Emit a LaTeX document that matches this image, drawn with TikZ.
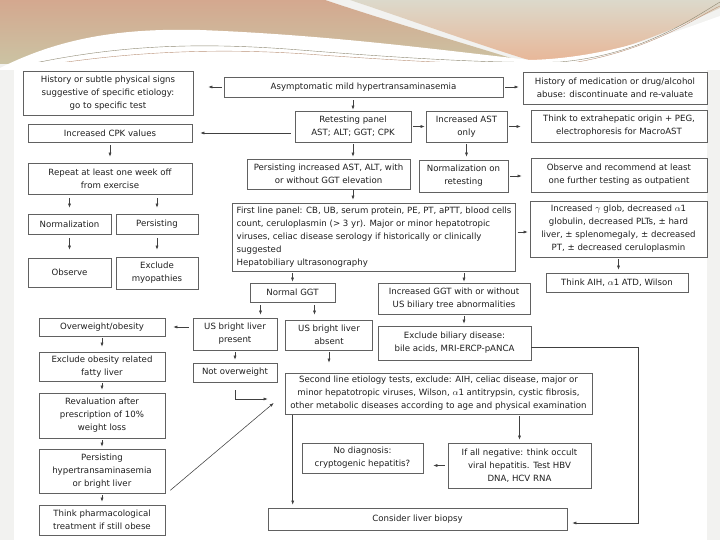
\documentclass[tikz,border=0pt]{standalone}
\usepackage{fontspec}
\setmainfont{DejaVu Sans}
\usetikzlibrary{arrows.meta, calc}
\definecolor{bgGray}{HTML}{F2F2F0}
\definecolor{tanL}{HTML}{D4A88F}
\definecolor{tanG}{HTML}{CBC3A3}
\definecolor{greyG}{HTML}{DCD9CB}
\definecolor{peach}{HTML}{E8B697}
\colorlet{rim}{black!62}
\colorlet{ink}{black!88}
\tikzset{
  box/.style ={draw=rim, fill=white, line width=0.6pt, inner sep=1pt,
               align=center, text=ink, font=\fontsize{8.6}{13}\selectfont},
  lbox/.style={box, align=left},
  arr/.style ={-{Latex[length=4pt, width=3pt]}, draw=black!75, line width=0.55pt},
  link/.style={-, draw=black!75, line width=0.55pt},
}

\begin{document}
\begin{tikzpicture}[x=1pt, y=-1pt]
\useasboundingbox (0,0) rectangle (720,540);

% --- slide background ---
\fill[bgGray] (0,0) rectangle (720,540);
\shade[top color=tanL, bottom color=tanG]
  (0,0) -- (325,0) .. controls (400,25) and (470,45) .. (530,64) -- (0,64) -- cycle;
\shade[top color=greyG, bottom color=peach]
  (350,0) -- (720,0) -- (720,8) .. controls (650,40) and (600,60) .. (535,62)
  .. controls (470,42) and (410,20) .. (350,0) -- cycle;
\fill[white] (0,68) .. controls (60,38) and (120,28) .. (200,30)
  .. controls (330,35) and (440,50) .. (530,60)
  .. controls (610,58) and (680,30) .. (720,16) -- (720,70) -- (0,70) -- cycle;
\draw[tanG!70!black, line width=0.4pt] (30,64) .. controls (120,45) and (200,42) .. (300,50)
  .. controls (400,58) and (500,64) .. (560,62) .. controls (640,55) and (690,20) .. (720,2);
\draw[peach!80!black, line width=0.4pt] (40,66) .. controls (140,50) and (230,48) .. (320,55)
  .. controls (420,62) and (500,66) .. (565,64) .. controls (650,52) and (700,15) .. (720,6);
\fill[white] (14,62) rectangle (707,540);

% --- top row ---
\node[box, minimum width=279, minimum height=20] (asym) at (363.5,87)
  {Asymptomatic mild hypertransaminasemia};
\node[box, minimum width=170, minimum height=44] (hist) at (108,93)
  {History or subtle physical signs\\suggestive of specific etiology:\\go to specific test};
\node[box, minimum width=184, minimum height=32] (med) at (615,88)
  {History of medication or drug/alcohol\\abuse: discontinuate and re-valuate};

\draw[arr, shorten <=2pt, shorten >=15pt] (asym.west) -- (asym.west -| hist.east);
\draw[arr, shorten <=2pt, shorten >=4pt] (asym.east) -- (asym.east -| med.west);

% --- retesting ---
\node[box, minimum width=116, minimum height=31] (ret) at (353,126.5)
  {Retesting panel\\AST; ALT; GGT; CPK};
\node[box, minimum width=81, minimum height=31] (ast) at (466.5,126.5)
  {Increased AST\\only};
\node[box, minimum width=176, minimum height=32] (extra) at (619,126)
  {Think to extrahepatic origin + PEG,\\electrophoresis for MacroAST};
\node[box, minimum width=164, minimum height=18] (cpk) at (110,133)
  {Increased CPK values};

\draw[arr, shorten <=3pt, shorten >=1pt] (ret.north |- asym.south) -- (ret.north);
\draw[arr, shorten <=4pt, shorten >=8pt] (ret.west |- cpk.east) -- (cpk.east);
\draw[arr, shorten <=2pt, shorten >=1pt] (ret.east) -- (ast.west);
\draw[arr, shorten <=2pt, shorten >=10pt] (ast.east) -- (ast.east -| extra.west);

% --- second row ---
\node[box, minimum width=164, minimum height=31] (rep) at (110,178.5)
  {Repeat at least one week off\\from exercise};
\node[box, minimum width=163, minimum height=30] (pers) at (328.5,174)
  {Persisting increased AST, ALT, with\\or without GGT elevation};
\node[box, minimum width=89, minimum height=32] (normret) at (463.5,176)
  {Normalization on\\retesting};
\node[box, minimum width=176, minimum height=34] (obsrec) at (619,175)
  {Observe and recommend at least\\one further testing as outpatient};

\draw[arr, shorten <=3pt, shorten >=6pt] (cpk.south) -- (rep.north);
\draw[arr, shorten <=2pt, shorten >=2pt] (ret.south) -- (ret.south |- pers.north);
\draw[arr, shorten <=2pt, shorten >=3pt] (ast.south) -- (ast.south |- normret.north);
\draw[arr, shorten <=2pt, shorten >=9pt] (normret.east) -- (normret.east -| obsrec.west);

% --- CPK branch ---
\node[box, minimum width=83, minimum height=20] (norm) at (69.5,224) {Normalization};
\node[box, minimum width=82, minimum height=20] (persist) at (157,224) {Persisting};
\node[box, minimum width=83, minimum height=29] (observe) at (69.5,272.5) {Observe};
\node[box, minimum width=82, minimum height=32] (myo) at (157,273) {Exclude\\myopathies};

\draw[arr, shorten <=4pt, shorten >=6pt] (norm.north |- rep.south) -- (norm.north);
\draw[arr, shorten <=4pt, shorten >=6pt] (persist.north |- rep.south) -- (persist.north);
\draw[arr, shorten <=4pt, shorten >=8pt] (norm.south) -- (observe.north);
\draw[arr, shorten <=4pt, shorten >=7pt] (persist.south) -- (myo.north);

% --- first line panel ---
\node[lbox, minimum width=278, minimum height=68, inner xsep=4pt] (first) at (374,237)
  {First line panel: CB, UB, serum protein, PE, PT, aPTT, blood cells\\
   count, ceruloplasmin (> 3 yr). Major or minor hepatotropic\\
   viruses, celiac disease serology if historically or clinically\\
   suggested\\Hepatobiliary ultrasonography};
\node[box, minimum width=177, minimum height=56] (gamma) at (618.5,229)
  {Increased $\gamma$ glob, decreased $\alpha$1\\globulin, decreased PLTs, ± hard\\
   liver, ± splenomegaly, ± decreased\\PT, ± decreased ceruloplasmin};
\node[box, minimum width=142, minimum height=19] (aih) at (617,282.5)
  {Think AIH, $\alpha$1 ATD, Wilson};

\draw[arr, shorten <=1pt, shorten >=3pt] (ret.south |- pers.south) -- (ret.south |- first.north);
\draw[arr, shorten <=2pt, shorten >=2pt] ([yshift=5pt]first.east) -- ([yshift=5pt]first.east -| gamma.west);
\draw[arr, shorten <=2pt, shorten >=3pt] (gamma.south) -- (gamma.south |- aih.north);

% --- GGT split ---
\node[box, minimum width=85, minimum height=19] (ngg) at (292.5,292.5) {Normal GGT};
\node[box, minimum width=152, minimum height=31] (igg) at (454,298.5)
  {Increased GGT with or without\\US biliary tree abnormalities};
\node[box, minimum width=84, minimum height=32] (uspres) at (235,334)
  {US bright liver\\present};
\node[box, minimum width=87, minimum height=30] (usabs) at (329,335)
  {US bright liver\\absent};
\node[box, minimum width=153, minimum height=34] (bil) at (454.5,343)
  {Exclude biliary disease:\\bile acids, MRI-ERCP-pANCA};
\node[box, minimum width=84, minimum height=19] (nowt) at (235,372.5) {Not overweight};

\draw[arr, shorten <=2pt, shorten >=1pt] (ngg.north |- first.south) -- (ngg.north);
\draw[arr, shorten <=2pt, shorten >=1pt] ([xshift=10pt]igg.north |- first.south) -- ([xshift=10pt]igg.north);
\draw[arr, shorten <=3pt, shorten >=3pt] ([xshift=-32pt]ngg.south) -- ([xshift=-32pt]ngg.south |- uspres.north);
\draw[arr, shorten <=3pt, shorten >=5pt] ([xshift=22pt]ngg.south) -- ([xshift=22pt]ngg.south |- usabs.north);
\draw[arr, shorten <=2pt, shorten >=2pt] ([xshift=10pt]igg.south) -- ([xshift=10pt]igg.south |- bil.north);
\draw[arr, shorten <=2pt, shorten >=3pt] (uspres.south) -- (nowt.north);

% --- obesity branch ---
\node[box, minimum width=126, minimum height=18] (over) at (102,327) {Overweight/obesity};
\node[box, minimum width=126, minimum height=29] (exob) at (102,366.5)
  {Exclude obesity related\\fatty liver};
\node[box, minimum width=126, minimum height=45] (reval) at (102,415.5)
  {Revaluation after\\prescription of 10\%\\weight loss};
\node[box, minimum width=126, minimum height=44] (hyper) at (102,471)
  {Persisting\\hypertransaminasemia\\or bright liver};
\node[box, minimum width=126, minimum height=30] (pharm) at (102,520)
  {Think pharmacological\\treatment if still obese};

\draw[arr, shorten <=4pt, shorten >=8pt] (uspres.west |- over.east) -- (over.east);
\draw[arr, shorten <=2pt, shorten >=5pt] (over.south) -- (exob.north);
\draw[arr, shorten <=2pt, shorten >=3pt] (exob.south) -- (reval.north);
\draw[arr, shorten <=2pt, shorten >=2pt] (reval.south) -- (hyper.north);
\draw[arr, shorten <=2pt, shorten >=3pt] (hyper.south) -- (pharm.north);

% --- second line and end ---
\node[box, minimum width=307, minimum height=41] (second) at (438.5,393.5)
  {Second line etiology tests, exclude: AIH, celiac disease, major or\\
   minor hepatotropic viruses, Wilson, $\alpha$1 antitrypsin, cystic fibrosis,\\
   other metabolic diseases according to age and physical examination};
\node[box, minimum width=143, minimum height=45] (ifall) at (519.5,465.5)
  {If all negative: think occult\\viral hepatitis. Test HBV\\DNA, HCV RNA};
\node[box, minimum width=121, minimum height=30] (nodiag) at (362.5,458)
  {No diagnosis:\\cryptogenic hepatitis?};
\node[box, minimum width=299, minimum height=22] (biopsy) at (417.5,519)
  {Consider liver biopsy};
\coordinate (bend) at (638,523);

\draw[arr, shorten <=8pt, shorten >=17pt] (nowt.south) |- ([yshift=-5.5pt]second.west);
\draw[arr] ([shift={(5,-3)}]hyper.south east) -- ([shift={(-11,9.5)}]second.west);
\draw[arr, shorten <=2pt, shorten >=10pt] (usabs.south) -- (usabs.south |- second.north);
\draw[arr, shorten <=2pt, shorten >=3pt] (ifall.north |- second.south) -- (ifall.north);
\draw[arr, shorten <=3pt, shorten >=10pt] (ifall.west) -- (ifall.west -| nodiag.east);
\draw[arr, shorten <=1pt, shorten >=3pt] ([xshift=8pt]second.south west) -- ([xshift=8pt]second.south west |- biopsy.north);
\draw[arr, shorten >=5pt] ([yshift=-4pt]bil.east) -| (bend) -- (bend -| biopsy.east);

\end{tikzpicture}
\end{document}
